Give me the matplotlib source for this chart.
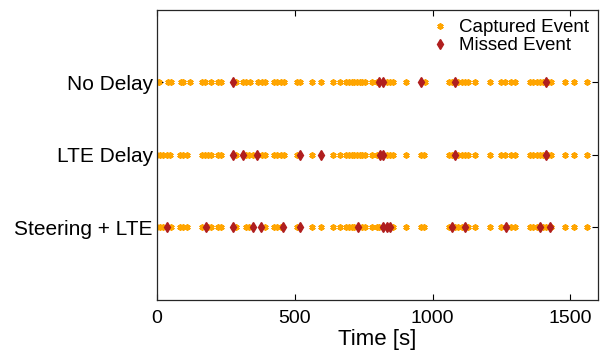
import matplotlib.pyplot as plt

plt.rcParams['font.family'] = ['Liberation Sans', 'DejaVu Sans']

# event times [s] per scenario
row_labels = ["Steering + LTE", "LTE Delay", "No Delay"]

nodelay_captured = [2, 8, 41, 50, 86, 95, 122, 162, 174, 195, 222, 231, 287, 311, 323,
                    337, 367, 380, 392, 424, 436, 449, 461, 507, 519, 563, 597, 640,
                    664, 686, 698, 706, 716, 726, 735, 745, 755, 779, 799, 833, 845,
                    857, 902, 972, 1059, 1069, 1093, 1105, 1117, 1129, 1153, 1208,
                    1250, 1262, 1286, 1298, 1353, 1365, 1377, 1389, 1401, 1419, 1431,
                    1480, 1512, 1559]
nodelay_missed = [277, 806, 820, 958, 1081, 1410]

lte_captured = [1, 11, 21, 35, 47, 83, 95, 108, 162, 174, 186, 198, 222, 231, 287,
                323, 335, 347, 380, 392, 424, 436, 449, 461, 507, 563, 640, 664,
                686, 698, 706, 716, 726, 735, 745, 755, 779, 799, 833, 845, 857,
                902, 958, 970, 1059, 1069, 1093, 1105, 1117, 1129, 1153, 1208,
                1250, 1262, 1286, 1298, 1353, 1365, 1377, 1389, 1401, 1419, 1431,
                1480, 1512, 1559]
lte_missed = [275, 311, 365, 519, 595, 809, 821, 1081, 1410]

steer_captured = [1, 11, 21, 50, 83, 95, 108, 162, 186, 198, 222, 231, 287, 323,
                  335, 392, 424, 436, 449, 507, 563, 597, 640, 664, 686, 698, 706,
                  716, 745, 755, 779, 799, 806, 857, 902, 958, 970, 1059, 1081,
                  1093, 1105, 1129, 1153, 1208, 1250, 1286, 1298, 1353, 1365, 1377,
                  1401, 1410, 1431, 1480, 1512, 1559]
steer_missed = [37, 177, 275, 347, 377, 458, 519, 730, 821, 833, 845, 1069, 1117,
                1265, 1389, 1425]

captured = [steer_captured, lte_captured, nodelay_captured]
missed = [steer_missed, lte_missed, nodelay_missed]

orange = "#FFA500"
darkred = "#B01E1E"

fig = plt.figure(figsize=(6.01, 3.52), dpi=100)
ax = fig.add_axes([0.261, 0.148, 0.734, 0.824])

for i, (c, m) in enumerate(zip(captured, missed)):
    y = i + 1
    # asterisk marker like MATLAB's '*'
    ax.plot(c, [y] * len(c), linestyle="none", marker=(6, 2, 0), color=orange,
            markersize=4.5, markeredgewidth=1.3,
            label="Captured Event" if i == 0 else None)
    ax.plot(m, [y] * len(m), linestyle="none", marker="d", color=darkred,
            markersize=5, label="Missed Event" if i == 0 else None)

ax.set_xlim(0, 1600)
ax.set_ylim(0, 4)
ax.set_xticks([0, 500, 1000, 1500])
ax.set_yticks([1, 2, 3])
ax.set_yticklabels(row_labels)
ax.set_xlabel("Time [s]", fontsize=16, labelpad=2)
ax.tick_params(axis="x", labelsize=14, direction="in", top=True, length=4, pad=7)
ax.tick_params(axis="y", labelsize=15, direction="in", right=True, length=4, pad=3)
for s in ax.spines.values():
    s.set_color("#262626")
    s.set_linewidth(0.9)

ax.legend(loc="upper right", frameon=False, fontsize=13.5, handletextpad=0.5,
          borderaxespad=0.1, labelspacing=0.05, handlelength=1.0)

fig.savefig("out.png", dpi=100)
